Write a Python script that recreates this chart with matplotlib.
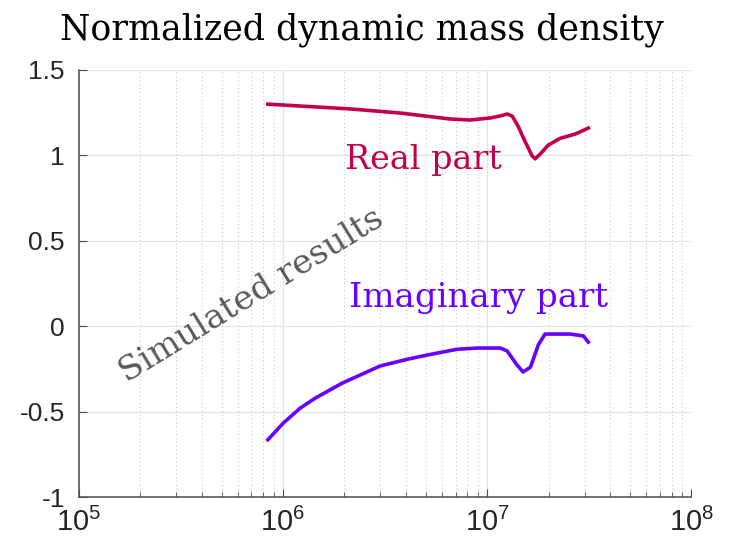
import numpy as np
import matplotlib
matplotlib.use("Agg")
import matplotlib.pyplot as plt
from matplotlib.ticker import LogLocator, NullFormatter

# frequency (Hz) and normalized dynamic mass density
freq_real = [8.43e5, 1.21e6, 2.13e6, 3.75e6, 6.59e6, 8.26e6, 1.035e7, 1.16e7,
             1.253e7, 1.327e7, 1.419e7, 1.535e7, 1.663e7, 1.718e7, 1.82e7,
             1.99e7, 2.28e7, 2.70e7, 2.92e7, 3.13e7]
rho_real = [1.30, 1.289, 1.272, 1.248, 1.213, 1.207, 1.219, 1.231,
            1.242, 1.23, 1.17, 1.08, 0.996, 0.98, 1.008,
            1.06, 1.10, 1.125, 1.143, 1.16]

freq_imag = [8.43e5, 1.0e6, 1.21e6, 1.435e6, 1.945e6, 2.99e6, 4.05e6, 5.08e6,
             7.13e6, 8.93e6, 1.16e7, 1.253e7, 1.40e7, 1.50e7, 1.63e7,
             1.78e7, 1.92e7, 2.55e7, 2.96e7, 3.13e7]
rho_imag = [-0.665, -0.569, -0.481, -0.422, -0.334, -0.233, -0.194, -0.169,
            -0.135, -0.128, -0.128, -0.145, -0.227, -0.268, -0.24,
            -0.11, -0.046, -0.046, -0.057, -0.093]

c_real = "#C2004E"
c_imag = "#6A00FF"

plt.rcParams['font.family'] = ['Liberation Sans', 'DejaVu Sans']
plt.rcParams['mathtext.fontset'] = 'custom'
plt.rcParams['mathtext.rm'] = 'Liberation Sans'

fig = plt.figure(figsize=(7.30, 5.51), dpi=100)
ax = fig.add_axes([0.108, 0.098, 0.839, 0.775])

ax.plot(freq_real, rho_real, color=c_real, lw=2.6, solid_joinstyle='round')
ax.plot(freq_imag, rho_imag, color=c_imag, lw=2.6, solid_joinstyle='round')

ax.set_xscale('log')
ax.set_xlim(1e5, 1e8)
ax.set_ylim(-1, 1.5)
ax.set_yticks([-1, -0.5, 0, 0.5, 1, 1.5])
ax.set_yticklabels(['-1', '-0.5', '0', '0.5', '1', '1.5'])
ax.xaxis.set_minor_locator(LogLocator(base=10, subs=np.arange(2, 10)))
ax.xaxis.set_minor_formatter(NullFormatter())

ax.grid(True, which='major', color='#e3e3e3', lw=0.9)
ax.grid(True, which='minor', axis='x', color='#c8c8c8', lw=0.8, ls=(0, (1, 2.5)))
ax.set_axisbelow(True)

for s in ['top', 'right']:
    ax.spines[s].set_visible(False)
for s in ['left', 'bottom']:
    ax.spines[s].set_color('#4d4d4d')
    ax.spines[s].set_linewidth(1.1)

ax.tick_params(which='both', direction='in', colors='#4d4d4d', labelcolor='#262626',
               labelsize=19)
ax.tick_params(which='major', length=6, pad=10)
ax.tick_params(which='minor', length=3.5)
ax.tick_params(axis='x', pad=8, labelsize=21)

fig.text(0.496, 0.946, 'Normalized dynamic mass density', family='DejaVu Serif',
         fontsize=25, ha='center', va='center')

ax.text(4.86e6, 0.973, 'Real part', color=c_real, family='DejaVu Serif',
        fontsize=24, ha='center', va='center')
ax.text(9.04e6, 0.165, 'Imaginary part', color=c_imag, family='DejaVu Serif',
        fontsize=24.5, ha='center', va='center')
ax.text(7.05e5, 0.177, 'Simulated results', color='#5a5a5a', family='DejaVu Serif',
        fontsize=24.5, ha='center', va='center', rotation=31.6,
        rotation_mode='anchor')

fig.savefig('out.png', dpi=100)
